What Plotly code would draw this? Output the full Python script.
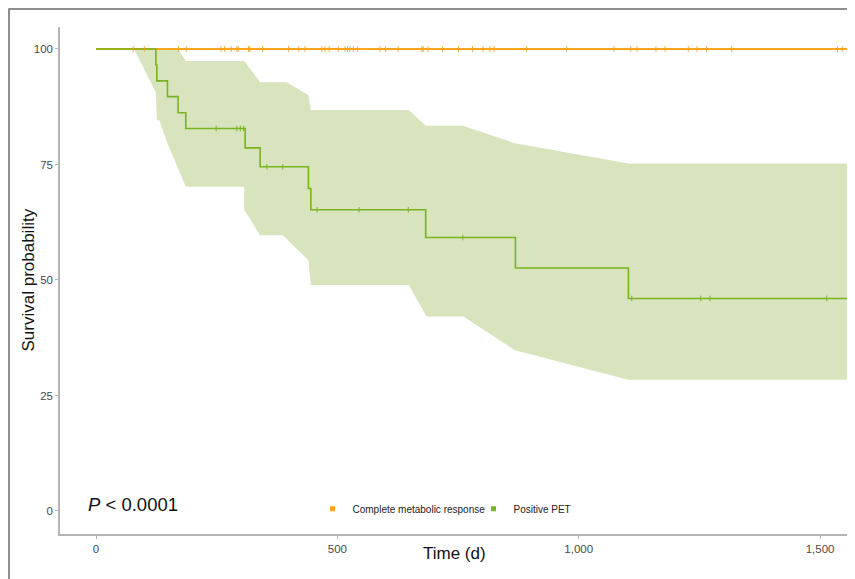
import plotly.graph_objects as go

# ---------------- data ----------------
# Positive PET Kaplan-Meier step curve (days, survival %)
pet_times = [0, 124, 126, 148, 170, 186, 309, 340, 440, 445, 683, 869, 1103, 1557]
pet_surv = [100, 96.6, 93.1, 89.7, 86.2, 82.8, 78.6, 74.5, 69.8, 65.2, 59.2, 52.6, 46.0, 46.0]
pet_censor_times = [249, 292, 299, 306, 354, 387, 458, 545, 647, 760, 1110, 1253, 1272, 1514]

# confidence band of Positive PET
band_upper_times = [0, 170, 186, 307, 340, 395, 440, 445, 648, 683, 760, 868, 1103, 1557]
band_upper = [100, 100, 97.4, 97.4, 92.8, 92.8, 90.0, 86.8, 86.8, 83.4, 83.4, 79.6, 75.2, 75.2]
band_lower_times = [0, 79, 124, 126, 131, 148, 186, 307, 307, 340, 387, 440, 445, 648, 685, 761, 868, 1103, 1557]
band_lower = [100, 100, 90.6, 84.6, 84.6, 79.6, 70.2, 70.2, 65.2, 59.7, 59.7, 54.3, 48.9, 48.9, 42.1, 42.1, 34.8, 28.4, 28.4]

# Complete metabolic response curve
cmr_times = [0, 1557]
cmr_surv = [100, 100]
cmr_censor_times = [77, 100, 171, 187, 259, 266, 280, 292, 295, 316, 319, 345, 399, 420, 433,
                    468, 474, 483, 502, 516, 521, 526, 533, 542, 588, 600, 626, 675, 678, 688,
                    718, 751, 780, 802, 816, 825, 892, 975, 1073, 1108, 1121, 1160, 1179, 1227,
                    1245, 1265, 1317, 1536, 1546]

x_ticks = [0, 500, 1000, 1500]
x_tick_labels = ["0", "500", "1,000", "1,500"]
y_ticks = [0, 25, 50, 75, 100]
y_tick_labels = ["0", "25", "50", "75", "100"]

series_names = ["Complete metabolic response", "Positive PET"]
p_text = "<i>P</i> < 0.0001"

# ---------------- styling ----------------
ORANGE = "#FFA41C"
GREEN = "#78B41F"
BAND = "#D7E4BD"
AXIS = "#B5B5B5"
FONT = "Arial, 'Liberation Sans', sans-serif"

W, H = 847, 571          # page adds an 8px body margin
ML, MR, MT, MB = 52, 6, 19, 45
PW, PH = W - ML - MR, H - MT - MB


def step_value(times, values, t):
    v = values[0]
    for ti, vi in zip(times, values):
        if ti <= t:
            v = vi
    return v


def px_x(px):
    return (px - ML) / PW


def px_y(py):
    return (H - MB - py) / PH


fig = go.Figure()

# confidence band polygon
fig.add_trace(go.Scatter(
    x=band_upper_times + band_lower_times[::-1],
    y=band_upper + band_lower[::-1],
    fill="toself", fillcolor=BAND, line=dict(width=0),
    mode="lines", hoverinfo="skip", showlegend=False,
))

# orange curve
fig.add_trace(go.Scatter(
    x=cmr_times, y=cmr_surv, mode="lines", line=dict(color=ORANGE, width=1.8, shape="hv"),
    showlegend=False,
))
# green curve
fig.add_trace(go.Scatter(
    x=pet_times, y=pet_surv, mode="lines", line=dict(color=GREEN, width=1.6, shape="hv"),
    showlegend=False,
))
# censor marks
fig.add_trace(go.Scatter(
    x=cmr_censor_times, y=[step_value(cmr_times, cmr_surv, t) for t in cmr_censor_times],
    mode="markers",
    marker=dict(symbol="line-ns-open", size=4, color=ORANGE, line=dict(color=ORANGE, width=1)),
    showlegend=False,
))
fig.add_trace(go.Scatter(
    x=pet_censor_times, y=[step_value(pet_times, pet_surv, t) for t in pet_censor_times],
    mode="markers",
    marker=dict(symbol="line-ns-open", size=4, color=GREEN, line=dict(color=GREEN, width=1)),
    showlegend=False,
))

# legend entries
for name, col in zip(series_names, [ORANGE, GREEN]):
    fig.add_trace(go.Scatter(
        x=[None], y=[None], mode="markers", name=name,
        marker=dict(symbol="square", size=5, color=col),
    ))

fig.update_layout(
    width=W, height=H,
    margin=dict(l=ML, r=MR, t=MT, b=MB),
    paper_bgcolor="white", plot_bgcolor="white",
    font=dict(family=FONT, color="#333333"),
    showlegend=True,
    legend=dict(
        orientation="h", x=0.32, y=0.05, xanchor="left", yanchor="middle",
        font=dict(size=10, color="#222222"), bgcolor="rgba(0,0,0,0)",
        itemwidth=30, entrywidth=116, tracegroupgap=0,
    ),
    xaxis=dict(
        range=[-74.6, 1560], tickvals=x_ticks, ticktext=x_tick_labels,
        showgrid=False, zeroline=False, showline=True, linecolor=AXIS, linewidth=1.5,
        ticks="outside", ticklen=3, tickcolor=AXIS, tickwidth=1,
        tickfont=dict(size=11.5, color="#4A4A4A"),
    ),
    yaxis=dict(
        range=[-4.98, 104.76], tickvals=y_ticks, ticktext=y_tick_labels,
        showgrid=False, zeroline=False, showline=True, linecolor=AXIS, linewidth=1.5,
        ticks="outside", ticklen=3, tickcolor=AXIS, tickwidth=1,
        tickfont=dict(size=11.5, color="#4A4A4A"),
    ),
    shapes=[
        dict(type="rect", xref="paper", yref="paper",
             x0=px_x(1), x1=1.05, y0=-0.2, y1=px_y(1),
             line=dict(color="#6B6B6B", width=1.5), fillcolor="rgba(0,0,0,0)", layer="below"),
    ],
    annotations=[
        dict(text="Time (d)", xref="paper", yref="paper", x=0.5, y=px_y(545),
             xanchor="center", yanchor="middle", showarrow=False,
             font=dict(size=17, color="#111111")),
        dict(text="Survival probability", xref="paper", yref="paper",
             x=px_x(20), y=0.5, textangle=-90,
             xanchor="center", yanchor="middle", showarrow=False,
             font=dict(size=17, color="#111111")),
        dict(text=p_text, xref="paper", yref="paper", x=px_x(78), y=px_y(496),
             xanchor="left", yanchor="middle", showarrow=False,
             font=dict(size=18.5, color="#111111")),
    ],
)

fig.write_html("out.html")
